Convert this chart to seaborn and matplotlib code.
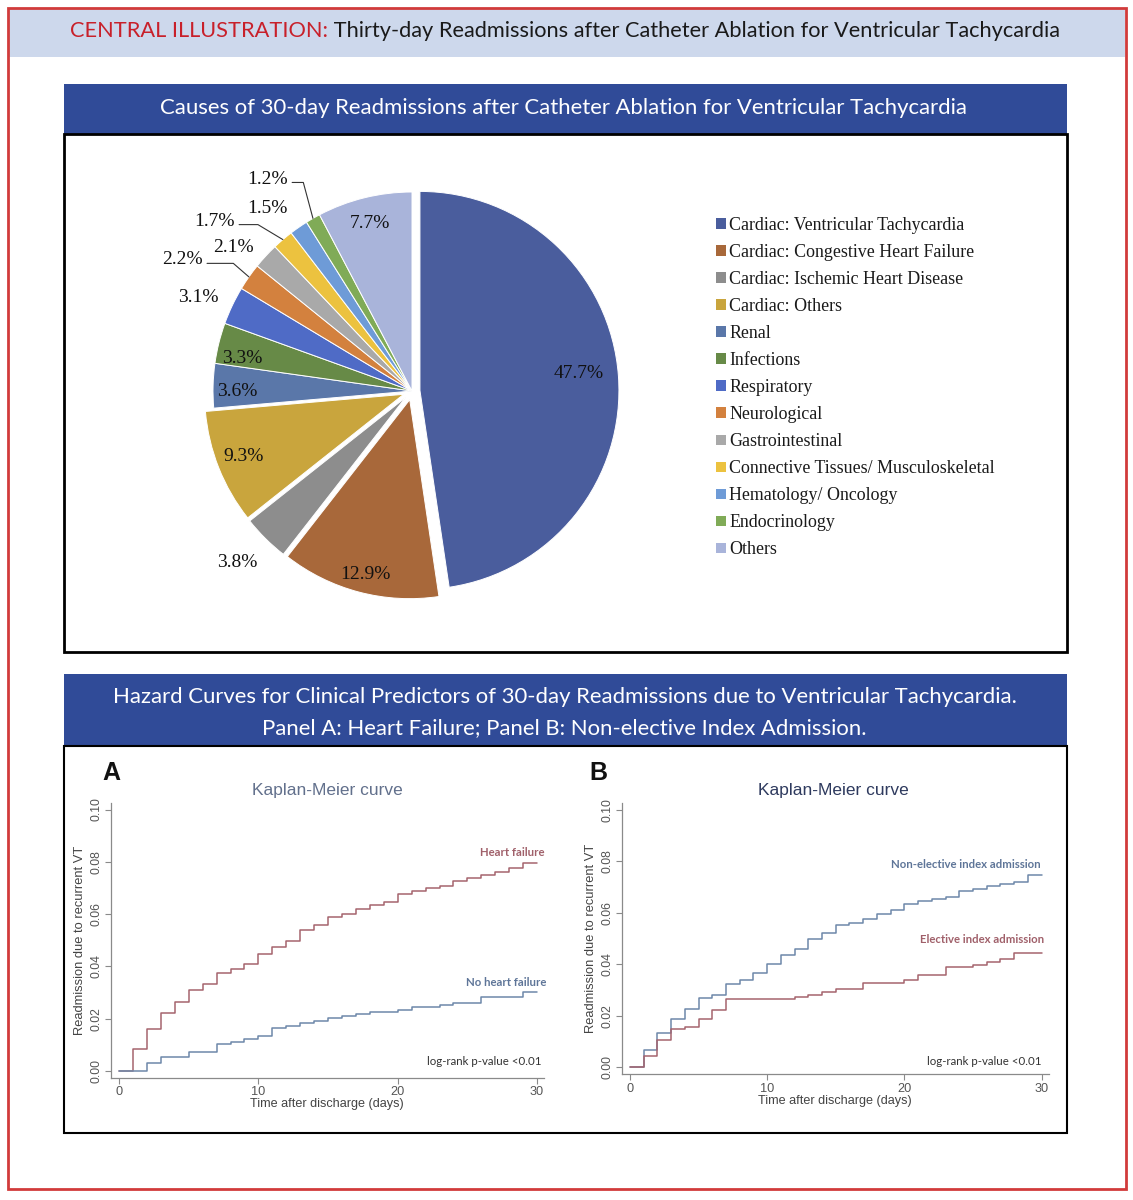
import matplotlib
matplotlib.use("Agg")
import matplotlib.pyplot as plt
import seaborn as sns
import numpy as np
import pandas as pd
from matplotlib.patches import Rectangle

# ---------------- DATA ----------------
causes = ["Cardiac: Ventricular Tachycardia", "Cardiac: Congestive Heart Failure",
          "Cardiac: Ischemic Heart Disease", "Cardiac: Others", "Renal", "Infections",
          "Respiratory", "Neurological", "Gastrointestinal",
          "Connective Tissues/ Musculoskeletal", "Hematology/ Oncology",
          "Endocrinology", "Others"]
shares = [47.7, 12.9, 3.8, 9.3, 3.6, 3.3, 3.1, 2.2, 2.1, 1.7, 1.5, 1.2, 7.7]
cause_colors = ["#4a5d9d", "#a8683a", "#8d8d8d", "#c9a53d", "#5a77a9", "#678a47",
                "#4f6bc6", "#d3813e", "#a9a9a9", "#ecc23f", "#6e9bd7", "#80ab57", "#a9b4da"]
exploded = [0.04, 0.045, 0.045, 0.045, 0, 0, 0, 0, 0, 0, 0, 0, 0]

days = list(range(31))
heart_failure = [0, 0.0085, 0.0159, 0.0223, 0.0265, 0.0310, 0.0332, 0.0376, 0.0389, 0.0410,
                 0.0448, 0.0473, 0.0497, 0.0538, 0.0560, 0.0590, 0.0600, 0.0620, 0.0636, 0.0648,
                 0.0675, 0.0689, 0.0698, 0.0708, 0.0727, 0.0740, 0.0750, 0.0760, 0.0778, 0.0795, 0.0795]
no_heart_failure = [0, 0, 0.0032, 0.0052, 0.0052, 0.0071, 0.0071, 0.0103, 0.0112, 0.0122,
                    0.0132, 0.0163, 0.0173, 0.0182, 0.0191, 0.0201, 0.0210, 0.0218, 0.0227, 0.0227,
                    0.0233, 0.0243, 0.0243, 0.0252, 0.0261, 0.0261, 0.0282, 0.0282, 0.0282, 0.0303, 0.0303]
non_elective = [0, 0.0069, 0.0132, 0.0189, 0.0227, 0.0268, 0.0281, 0.0323, 0.0339, 0.0365,
                0.0402, 0.0437, 0.0460, 0.0499, 0.0522, 0.0552, 0.0562, 0.0578, 0.0596, 0.0610,
                0.0635, 0.0645, 0.0655, 0.0663, 0.0684, 0.0694, 0.0705, 0.0712, 0.0720, 0.0747, 0.0747]
elective = [0, 0.0044, 0.0105, 0.0148, 0.0158, 0.0189, 0.0223, 0.0264, 0.0264, 0.0264,
            0.0264, 0.0264, 0.0272, 0.0282, 0.0293, 0.0303, 0.0303, 0.0326, 0.0326, 0.0326,
            0.0339, 0.0359, 0.0359, 0.0391, 0.0391, 0.0399, 0.0411, 0.0420, 0.0443, 0.0443, 0.0443]
y_ticks = [0.00, 0.02, 0.04, 0.06, 0.08, 0.10]
x_ticks = [0, 10, 20, 30]

# label placement style (radius factor, angle offset in degrees)
label_r = [0.84, 0.95, 1.23, 0.91, 0.88, 0.87, 1.17, 1.33, 1.15, 1.31, 1.17, 1.29, 0.87]
label_dang = [1.8, 0.4, -0.8, -0.4, 1.8, 3.2, 1.8, 5.3, 4.0, 8.9, 3.6, 4.5, 0.3]
leader = {7: -41, 9: -31, 11: -75}

# ---------------- FIGURE ----------------
W, H = 1133, 1200
sns.set_theme(style="ticks")
plt.rcParams["font.family"] = ["Lato", "DejaVu Sans"]

fig = plt.figure(figsize=(W / 100, H / 100), dpi=100)
fig.patch.set_facecolor("white")
renderer = fig.canvas.get_renderer()


def rect(x0, y0, x1, y1, **kw):
    fig.add_artist(Rectangle((x0 / W, 1 - y1 / H), (x1 - x0) / W, (y1 - y0) / H,
                             transform=fig.transFigure, **kw))


def fit_text(xc, y, s, width, **kw):
    t = fig.text(xc / W, 1 - y / H, s, ha="center", va="center", **kw)
    w = t.get_window_extent(renderer).width
    t.set_fontsize(t.get_fontsize() * width / w)
    return t


# backgrounds / frames
rect(9, 9, 1125, 57, facecolor="#cdd8ec", edgecolor="none")
rect(8, 8, 1126, 1189, facecolor="none", edgecolor="#d13b3b", lw=2)
rect(64, 84, 1067, 134, facecolor="#304b98", edgecolor="none")
rect(64, 134, 1067, 652, facecolor="none", edgecolor="black", lw=2)
rect(64, 674, 1067, 746, facecolor="#304b98", edgecolor="none")
rect(64, 746, 1067, 1133, facecolor="none", edgecolor="black", lw=1.5)

# top two-colour title
p1 = "CENTRAL ILLUSTRATION:"
p2 = " Thirty-day Readmissions after Catheter Ablation for Ventricular Tachycardia"
t1 = fig.text(70 / W, 1 - 31 / H, p1, color="#c8202a", fontsize=15, va="center", ha="left")
t2 = fig.text(0, 1 - 31 / H, p2, color="#1a1a1a", fontsize=15, va="center", ha="left")
w1 = t1.get_window_extent(renderer).width
w2 = t2.get_window_extent(renderer).width
fs = 15 * (1061 - 70) / (w1 + w2)
t1.set_fontsize(fs)
t2.set_fontsize(fs)
w1 = t1.get_window_extent(renderer).width
t2.set_x((70 + w1) / W)

fit_text(564, 108, "Causes of 30-day Readmissions after Catheter Ablation for Ventricular Tachycardia",
         808, color="white", fontsize=15)
fit_text(565, 697, "Hazard Curves for Clinical Predictors of 30-day Readmissions due to Ventricular Tachycardia.",
         906, color="white", fontsize=15)
fit_text(564, 728, "Panel A: Heart Failure; Panel B: Non-elective Index Admission.",
         605, color="white", fontsize=15)

# ---------------- PIE ----------------
cx, cy, R = 412, 391, 199
half = 250
axp = fig.add_axes([(cx - half) / W, 1 - (cy + half) / H, 2 * half / W, 2 * half / H])
wedges, _ = axp.pie(shares, colors=cause_colors, startangle=90, counterclock=False,
                    explode=exploded, wedgeprops=dict(edgecolor="white", linewidth=0.7))
L = half / R
axp.set_xlim(-L, L)
axp.set_ylim(-L, L)
axp.axis("off")

serif = ["Liberation Serif", "DejaVu Serif"]
for i, (wd, v) in enumerate(zip(wedges, shares)):
    mid = 0.5 * (wd.theta1 + wd.theta2)
    ang = np.deg2rad(mid + label_dang[i])
    tx, ty = label_r[i] * np.cos(ang), label_r[i] * np.sin(ang)
    lab = f"{v:.1f}%"
    if i in leader:
        m = np.deg2rad(mid)
        axp.annotate(lab, xy=(np.cos(m), np.sin(m)), xytext=(tx, ty), ha="center", va="center",
                     fontsize=14, family=serif, color="#111111",
                     arrowprops=dict(arrowstyle="-", color="#333333", lw=0.8, shrinkA=1, shrinkB=0,
                                     relpos=(1.0, 0.3),
                                     connectionstyle=f"angle,angleA=0,angleB={leader[i]},rad=0"))
    else:
        axp.text(tx, ty, lab, ha="center", va="center", fontsize=14, family=serif, color="#111111")

leg = axp.legend(wedges, causes, loc="upper left", bbox_to_anchor=(716 / W, 1 - 217 / H),
                 bbox_transform=fig.transFigure, frameon=False, borderpad=0, borderaxespad=0,
                 handlelength=0.55, handleheight=0.55, handletextpad=0.2, labelspacing=0.56,
                 prop=dict(family=serif, size=12.9))
for t in leg.get_texts():
    t.set_color("#1a1a1a")
for hnd in leg.legend_handles:
    hnd.set_edgecolor("none")

# ---------------- KAPLAN-MEIER ----------------
km = pd.DataFrame({"day": days, "hf": heart_failure, "nohf": no_heart_failure,
                   "nonel": non_elective, "elec": elective})
red_c, blue_c = "#a5646e", "#6d88aa"
arial = ["Liberation Sans", "DejaVu Sans"]


def km_axes(rect_px, xlim, ylim):
    x0, y0, x1, y1 = rect_px
    ax = fig.add_axes([x0 / W, 1 - y1 / H, (x1 - x0) / W, (y1 - y0) / H])
    ax.set_xlim(*xlim)
    ax.set_ylim(*ylim)
    ax.set_facecolor("none")
    sns.despine(ax=ax)
    for s in ["left", "bottom"]:
        ax.spines[s].set_color("#8a8a8a")
        ax.spines[s].set_linewidth(0.9)
    ax.set_xticks(x_ticks)
    ax.set_yticks(y_ticks)
    ax.set_yticklabels([f"{v:.2f}" for v in y_ticks])
    ax.tick_params(axis="both", direction="out", length=4, width=0.8, color="#8a8a8a",
                   labelcolor="#555555", labelsize=8.7, pad=2)
    ax.tick_params(axis="y", labelrotation=90)
    for lbl in ax.get_yticklabels():
        lbl.set_va("center")
        lbl.set_family(arial)
    for lbl in ax.get_xticklabels():
        lbl.set_family(arial)
        lbl.set_fontsize(9.2)
    return ax


def km_labels(ax):
    ax.set_xlabel("Time after discharge (days)", family=arial, fontsize=9.1, color="#444444", labelpad=0)
    ax.set_ylabel("Readmission due to recurrent VT", family=arial, fontsize=9.3, color="#444444", labelpad=3)


axA = km_axes((110.7, 803, 544, 1078), (-0.6, 30.5), (-0.0027, 0.1025))
sns.lineplot(data=km, x="day", y="hf", ax=axA, color=red_c, lw=1.1, drawstyle="steps-post", legend=False)
sns.lineplot(data=km, x="day", y="nohf", ax=axA, color=blue_c, lw=1.1, drawstyle="steps-post", legend=False)
km_labels(axA)
axA.text(30.5, 0.0837, "Heart failure", ha="right", va="center", fontsize=8.2, weight="bold", color="#a0606a")
axA.text(30.7, 0.0338, "No heart failure", ha="right", va="center", fontsize=8.2, weight="bold", color="#5e7598")
axA.text(30.3, 0.0036, "log-rank p-value <0.01", ha="right", va="center", fontsize=8.3, color="#333333")

axB = km_axes((621.7, 803.3, 1049, 1074.3), (-0.6, 30.54), (-0.0027, 0.1026))
sns.lineplot(data=km, x="day", y="nonel", ax=axB, color=blue_c, lw=1.1, drawstyle="steps-post", legend=False)
sns.lineplot(data=km, x="day", y="elec", ax=axB, color=red_c, lw=1.1, drawstyle="steps-post", legend=False)
km_labels(axB)
axB.text(29.9, 0.079, "Non-elective index admission", ha="right", va="center", fontsize=8.2, weight="bold", color="#5e7598")
axB.text(30.2, 0.0497, "Elective index admission", ha="right", va="center", fontsize=8.2, weight="bold", color="#a0606a")
axB.text(30.0, 0.0022, "log-rank p-value <0.01", ha="right", va="center", fontsize=8.3, color="#333333")

# panel titles and letters
fig.text(327 / W, 1 - 790 / H, "Kaplan-Meier curve", ha="center", va="center", family=arial,
         fontsize=12.5, color="#62708c")
fig.text(833 / W, 1 - 790 / H, "Kaplan-Meier curve", ha="center", va="center", family=arial,
         fontsize=12.5, color="#2e3a5e")
fig.text(111 / W, 1 - 773 / H, "A", ha="center", va="center", family=arial, fontsize=18,
         weight="bold", color="#111111")
fig.text(598 / W, 1 - 773 / H, "B", ha="center", va="center", family=arial, fontsize=18,
         weight="bold", color="#111111")

fig.savefig("out.png", dpi=100, facecolor="white")
